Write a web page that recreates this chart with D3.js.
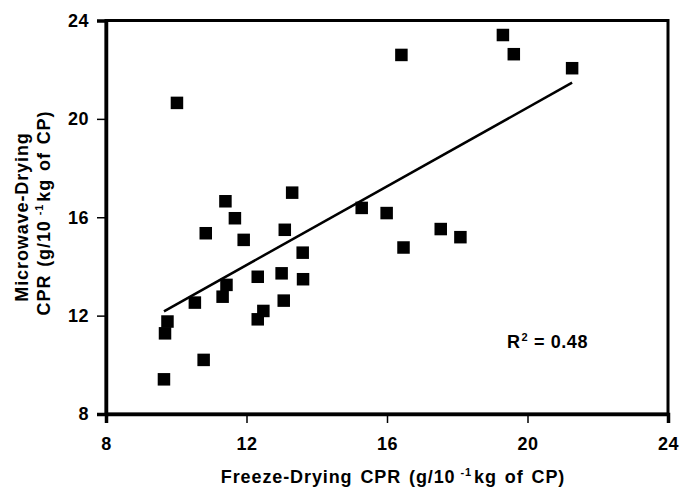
<!DOCTYPE html>
<html>
<head>
<meta charset="utf-8">
<script src="https://cdn.jsdelivr.net/npm/d3@7"></script>
<style>
  html, body { margin: 0; padding: 0; background: #fff; }
  svg { display: block; }
  text { font-family: "Liberation Sans", Arial, sans-serif; font-weight: bold; fill: #000; }
  .ttl { font-size: 18px; letter-spacing: 0.9px; word-spacing: 2px; }
  .r2 { font-size: 18px; letter-spacing: 0.6px; word-spacing: 0px; }
</style>
</head>
<body>
<svg id="chart" width="680" height="487"></svg>
<script>
// Data
const freezeDrying = [9.65, 9.68, 9.75, 10.02, 10.78, 10.53, 10.84, 11.32, 11.43, 11.40,
                      11.67, 11.92, 12.32, 12.32, 12.48, 13.00, 13.06, 13.09, 13.30, 13.60,
                      13.61, 15.28, 15.99, 16.47, 16.41, 17.53, 18.09, 19.30, 19.61, 21.27];
const microwaveDrying = [9.41, 11.28, 11.76, 20.65, 10.20, 12.53, 15.35, 12.77, 13.25, 16.65,
                         15.96, 15.08, 11.85, 13.58, 12.19, 13.72, 12.61, 15.49, 17.00, 14.56,
                         13.48, 16.38, 16.17, 14.77, 22.60, 15.52, 15.19, 23.41, 22.63, 22.06];
const trendSlope = 0.80;
const trendIntercept = 4.456;
const xTicks = [8, 12, 16, 20, 24];
const yTicks = [8, 12, 16, 20, 24];
const r2Label = "0.48";

(function () {
const svg = d3.select("#chart");
const mL = 106, mR = 668, mT = 20.5, mB = 414;

const x = d3.scaleLinear().domain([8, 24]).range([mL, mR]);
const y = d3.scaleLinear().domain([8, 24]).range([mB, mT]);

// Frame
svg.append("rect")
  .attr("x", mL).attr("y", mT)
  .attr("width", mR - mL).attr("height", mB - mT)
  .attr("fill", "none").attr("stroke", "#000").attr("stroke-width", 3);

// Axes
const xAxis = svg.append("g").attr("transform", `translate(0,${mB})`)
  .call(d3.axisBottom(x).tickValues(xTicks).tickSize(9).tickPadding(14).tickFormat(d3.format("d")));
const yAxis = svg.append("g").attr("transform", `translate(${mL},0)`)
  .call(d3.axisLeft(y).tickValues(yTicks).tickSize(9).tickPadding(8).tickFormat(d3.format("d")));
[xAxis, yAxis].forEach(g => {
  g.select(".domain").attr("stroke-width", 3.5);
  g.selectAll(".tick line").attr("stroke-width", 1.5);
  g.selectAll(".tick text")
    .style("font-family", '"Liberation Sans", Arial, sans-serif')
    .style("font-weight", "bold").style("font-size", "18px")
    .style("letter-spacing", "0.5px").attr("fill", "#000");
});

// Trend line
const xMin = d3.min(freezeDrying), xMax = d3.max(freezeDrying);
svg.append("line")
  .attr("x1", x(xMin)).attr("y1", y(trendSlope * xMin + trendIntercept))
  .attr("x2", x(xMax)).attr("y2", y(trendSlope * xMax + trendIntercept))
  .attr("stroke", "#000").attr("stroke-width", 2.5);

// Points
const sz = 12.5;
svg.append("g").selectAll("rect")
  .data(freezeDrying.map((d, i) => [d, microwaveDrying[i]]))
  .join("rect")
  .attr("x", d => x(d[0]) - sz / 2)
  .attr("y", d => y(d[1]) - sz / 2)
  .attr("width", sz).attr("height", sz)
  .attr("fill", "#000");

// helper: "main" + superscript + "rest"
function supText(sel, before, sup, after, gapBefore, gapAfter) {
  sel.append("tspan").text(before);
  sel.append("tspan").attr("dx", gapBefore).attr("dy", -7).style("font-size", "11px").text(sup);
  sel.append("tspan").attr("dx", gapAfter).attr("dy", 7).text(after);
}

// R² label
const r2 = svg.append("text").attr("class", "r2").attr("x", 507).attr("y", 348);
supText(r2, "R", "2", " = " + r2Label, 1, 0);

// X title
const xt = svg.append("text").attr("class", "ttl").attr("x", 393).attr("y", 483)
  .attr("text-anchor", "middle");
supText(xt, "Freeze-Drying CPR (g/10", "-1", "kg of CP)", 5, 2);

// Y title
const yt = svg.append("text").attr("class", "ttl").attr("transform", `translate(28,217) rotate(-90)`)
  .attr("text-anchor", "middle");
yt.text("Microwave-Drying");
const yt2 = svg.append("text").attr("class", "ttl").attr("transform", `translate(50,213) rotate(-90)`)
  .attr("text-anchor", "middle");
supText(yt2, "CPR (g/10", "-1", "kg of CP)", 5, 2);
})();
</script>
</body>
</html>
